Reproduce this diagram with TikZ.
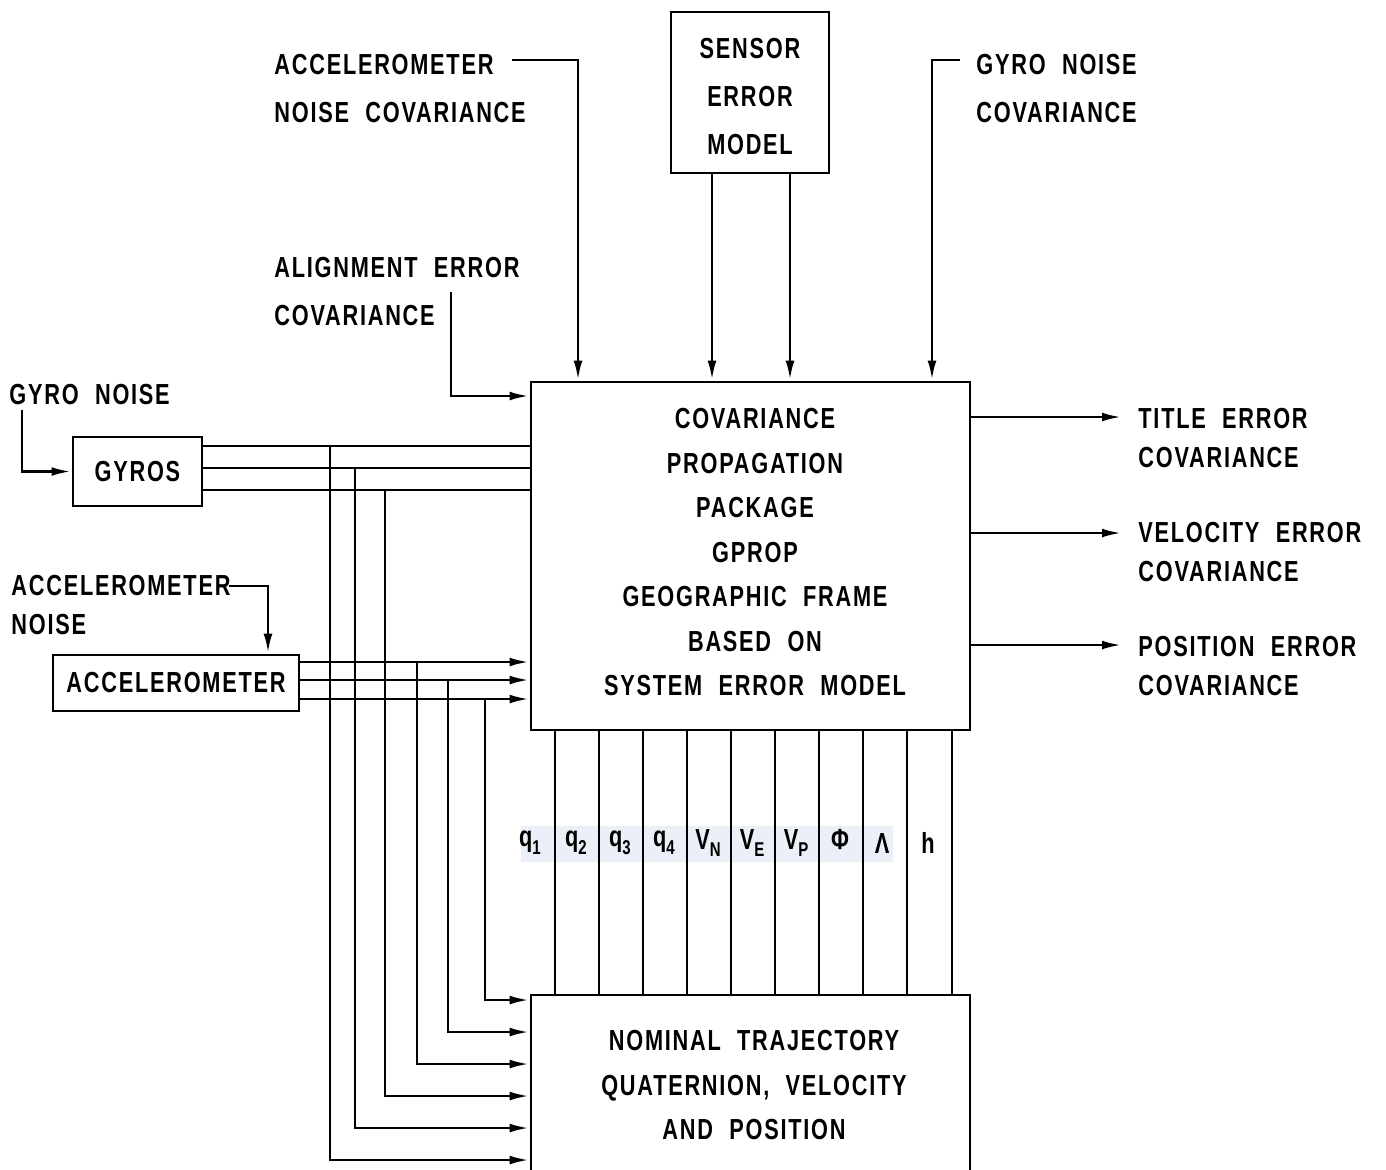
\documentclass[tikz,border=0pt]{standalone}
\usepackage{fontspec}
\setmainfont{Liberation Sans}[FakeStretch=0.75,LetterSpace=6,WordSpace=2.1]
\usetikzlibrary{arrows.meta}
\newcommand{\lowsub}[1]{\raisebox{-0.5ex}{\fontsize{10}{10}\selectfont #1}}
\definecolor{labbg}{RGB}{234,239,248}
\begin{document}
\begin{tikzpicture}[x=0.5pt,y=-0.5pt,line width=1.45pt,
  box/.style={draw,line width=1.4pt,inner sep=0pt,align=center},
  mfont/.style={font=\fontsize{14.5}{22.25}\selectfont\bfseries},
  sfont/.style={font=\fontsize{14.5}{24}\selectfont\bfseries},
  tfont/.style={font=\fontsize{14.5}{19.5}\selectfont\bfseries},
  lbl/.style={inner sep=0pt,anchor=north west,align=left},
  var/.style={inner sep=0pt,font=\fontsize{14.5}{16}\selectfont\bfseries},
  arr/.style={-{Latex[length=10pt,width=4.4pt]}}]
\useasboundingbox (0,0) rectangle (1386,1169);
\clip (0,0) rectangle (1386,1169);

% boxes
\node[box,minimum width=219.5pt,minimum height=174pt,
  label={[mfont,align=center,inner sep=0pt,xshift=2.25pt,yshift=2pt]center:COVARIANCE\\PROPAGATION\\PACKAGE\\GPROP\\GEOGRAPHIC FRAME\\BASED ON\\SYSTEM ERROR MODEL}]
  (cpp) at (750.5,556) {};
\node[box,minimum width=79pt,minimum height=80.5pt,
  label={[sfont,align=center,inner sep=0pt,yshift=-2pt]center:SENSOR\\ERROR\\MODEL}]
  (sem) at (750,92.5) {};
\node[box,minimum width=219.5pt,minimum height=90pt,
  label={[mfont,align=center,inner sep=0pt,xshift=1.75pt]center:NOMINAL TRAJECTORY\\QUATERNION, VELOCITY\\AND POSITION}]
  (bot) at (750.5,1085) {};
\node[box,mfont,minimum width=64.5pt,minimum height=34.5pt] (gyros) at (137.5,471.5) {GYROS};
\node[box,mfont,minimum width=123pt,minimum height=28pt] (acc) at (176,683) {ACCELEROMETER};

% labels
\node[lbl,sfont] (acclab) at (273,53) {ACCELEROMETER\\NOISE COVARIANCE};
\node[lbl,sfont] (alilab) at (273,256) {ALIGNMENT ERROR\\COVARIANCE};
\node[lbl,sfont] (gnclab) at (975,53) {GYRO NOISE\\COVARIANCE};
\node[lbl,sfont] (gnlab) at (8,383) {GYRO NOISE};
\node[lbl,tfont] (anlab) at (10,574) {ACCELEROMETER\\NOISE};
\node[lbl,tfont] (out1lab) at (1137,407) {TITLE ERROR\\COVARIANCE};
\node[lbl,tfont] (out2lab) at (1137,521) {VELOCITY ERROR\\COVARIANCE};
\node[lbl,tfont] (out3lab) at (1137,635) {POSITION ERROR\\COVARIANCE};

% top inputs
\coordinate (a1) at (512,60);
\draw[arr] (a1) -| (cpp.north -| 578,0);
\coordinate (s1) at (712,0);
\coordinate (s2) at (790,0);
\draw[arr] (sem.south -| s1) -- (cpp.north -| s1);
\draw[arr] (sem.south -| s2) -- (cpp.north -| s2);
\coordinate (gc) at (960,60);
\draw[arr] (gc) -| (cpp.north -| 932,0);
\coordinate (al) at (451,292);
\draw[arr] (al) |- (cpp.west |- 0,396);

% sensor noise inputs
\coordinate (gn) at (22,410);
\draw[arr] (gn) |- (gyros.west);
\coordinate (an) at (229,586);
\draw[arr] (an) -| (acc.north -| 268,0);

% outputs
\coordinate (o1) at (1122,417);
\coordinate (o2) at (1122,533);
\coordinate (o3) at (1122,645);
\foreach \o in {o1,o2,o3} \draw[arr] (cpp.east |- \o) -- (\o);

% gyro and accelerometer signals
\foreach \y in {446,468,490} \draw (gyros.east |- 0,\y) -- (cpp.west |- 0,\y);
\foreach \y in {662,680,699} \draw[arr] (acc.east |- 0,\y) -- (cpp.west |- 0,\y);
\foreach \x/\y/\yy in {330/446/1160,355/468/1128,385/490/1096,417/662/1064,448/680/1032,485/699/1000}
  \draw[arr] (\x,\y) |- (bot.west |- 0,\yy);

% state lines
\fill[labbg] (521,826) rectangle (893,862);
\foreach \x in {555,599,643,687,731,775,819,863,907,952}
  \draw (cpp.south -| \x,0) -- (bot.north -| \x,0);
\node[var] (q1) at (530,843) {q\lowsub{1}};
\node[var] (q2) at (576,843) {q\lowsub{2}};
\node[var] (q3) at (620,843) {q\lowsub{3}};
\node[var] (q4) at (664,843) {q\lowsub{4}};
\node[var] (vn) at (708,843) {V\lowsub{N}};
\node[var] (ve) at (752,843) {V\lowsub{E}};
\node[var] (vp) at (796,843) {V\lowsub{P}};
\node[var] (phi) at (840,840) {Φ};
\node[var] (lam) at (882,843) {Λ};
\node[var] (h) at (928,843) {h};
\end{tikzpicture}
\end{document}
